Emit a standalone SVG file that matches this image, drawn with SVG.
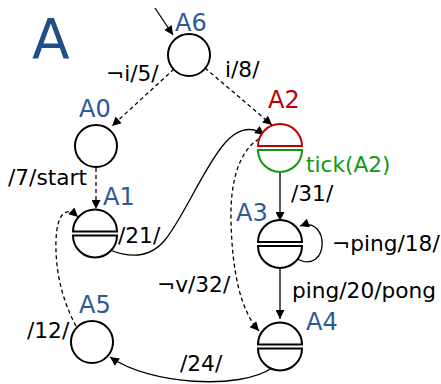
<svg xmlns="http://www.w3.org/2000/svg" width="441" height="384" viewBox="0 0 441 384">
<style>
text{font-family:"DejaVu Sans","Liberation Sans",sans-serif;}
.lbl{font-size:21.7px;fill:#000;}
.nm{font-size:24px;fill:#2b5a94;}
.st{fill:#fff;stroke:#000;stroke-width:2;}
.c{fill:none;stroke:#000;stroke-width:1.3;marker-end:url(#ah);}
.d{stroke-dasharray:4,3;}
</style>
<defs>
<marker id="ah" viewBox="0 0 10 10" refX="10" refY="5" markerWidth="11" markerHeight="9" markerUnits="userSpaceOnUse" orient="auto">
<path d="M0,0 L10,5 L0,10 Z" fill="#000"/>
</marker>
</defs>
<rect width="441" height="384" fill="#fff"/>
<text x="32" y="58" style="font-size:55px;fill:#1f4e89">A</text>
<g id="connectors">
<path class="c" d="M155,8 L173,35"/>
<path class="c d" d="M174,69 L112,126"/>
<path class="c d" d="M205,68 L272,125"/>
<path class="c d" d="M96,168 L96,209"/>
<path class="c" d="M110,250 C130,258 150,258 165,240 C185,215 205,165 225,143 C235,131 250,124 264,135"/>
<path class="c" d="M280,172 L280,221"/>
<path class="c d" d="M259,139 C240,150 230,180 231,220 C232,270 240,310 259,331"/>
<path class="c" d="M297,259 C330,275 330,215 300,226"/>
<path class="c" d="M280,268 L280,319"/>
<path class="c" d="M272,368 C240,390 150,385 110,357"/>
<path class="c d" d="M76,326 C62,300 55,270 56,240 C57,215 65,205 78,217"/>
</g>
<g id="labels">
<text class="lbl" x="106" y="81">¬i/5/</text>
<text class="lbl" x="225" y="77">i/8/</text>
<text class="lbl" x="8" y="185">/7/start</text>
<text class="lbl" x="118" y="243">/21/</text>
<text class="lbl" x="291" y="201">/31/</text>
<text class="lbl" x="332" y="251">¬ping/18/</text>
<text class="lbl" x="292" y="298">ping/20/pong</text>
<text class="lbl" x="157" y="292">¬v/32/</text>
<text class="lbl" x="180" y="371">/24/</text>
<text class="lbl" x="27" y="338">/12/</text>
</g>
<g id="A6">
<circle class="st" cx="189" cy="55" r="21"/>
<text class="nm" x="175" y="31">A6</text>
</g>
<g id="A0">
<circle class="st" cx="96" cy="146" r="21"/>
<text class="nm" x="79" y="117">A0</text>
</g>
<g id="A1">
<path class="st" d="M73,231.5 A22,22 0 0 1 117,231.5 Z"/>
<path class="st" d="M73,235.5 A22,22 0 0 0 117,235.5 Z"/>
<text class="nm" x="103" y="205">A1</text>
</g>
<g id="A2">
<path d="M258,146 A22,22 0 0 1 302,146 Z" fill="#fff" stroke="#c00000" stroke-width="2"/>
<path d="M258,150 A22,22 0 0 0 302,150 Z" fill="#fff" stroke="#119911" stroke-width="2"/>
<text x="268" y="108" style="font-size:24px;fill:#c00000">A2</text>
<text x="306" y="172" style="font-size:21.7px;fill:#119911">tick(A2)</text>
</g>
<g id="A3">
<path class="st" d="M258,242 A22,22 0 0 1 302,242 Z"/>
<path class="st" d="M258,246 A22,22 0 0 0 302,246 Z"/>
<text class="nm" x="236" y="221">A3</text>
</g>
<g id="A4">
<path class="st" d="M258,344.5 A22,22 0 0 1 302,344.5 Z"/>
<path class="st" d="M258,348.5 A22,22 0 0 0 302,348.5 Z"/>
<text class="nm" x="306" y="330">A4</text>
</g>
<g id="A5">
<circle class="st" cx="92" cy="342" r="21"/>
<text class="nm" x="79" y="313">A5</text>
</g>
</svg>
